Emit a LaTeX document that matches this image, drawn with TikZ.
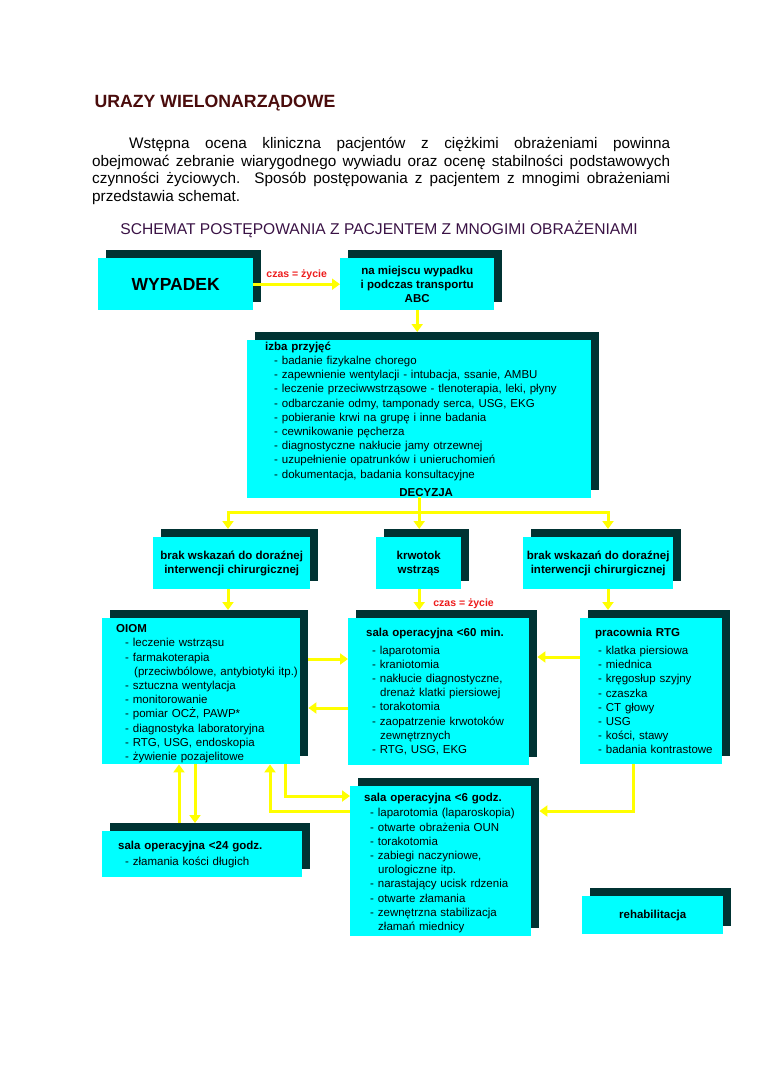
\documentclass[tikz,border=0pt]{standalone}
\usepackage{fontspec}
\setmainfont{Liberation Sans}
\usetikzlibrary{arrows.meta, positioning, shadows, calc}
\definecolor{bCyan}{HTML}{00FFFF}
\definecolor{bShadow}{HTML}{003333}
\definecolor{bYellow}{HTML}{FFFF00}
\definecolor{tBrown}{HTML}{4A0C0C}
\definecolor{tPurple}{HTML}{3A1245}
\definecolor{tRed}{HTML}{EE1C1C}
\newcommand{\boxfont}{\fontsize{11.5}{14.2}\selectfont}
\newcommand{\itm}[2][9pt]{\hspace*{#1}\mbox{- #2}}
\newcommand{\cnt}[2][17pt]{\hspace*{#1}\mbox{#2}}

\begin{document}
\begin{tikzpicture}[x=1pt, y=-1pt,
    card/.style={fill=bCyan, anchor=north west, inner sep=0pt,
      copy shadow={shadow xshift=8pt, shadow yshift=8pt, fill=bShadow, draw=none}},
    listcard/.style={card, align=left, font=\boxfont},
    titlecard/.style={card, align=center, font=\boxfont\bfseries},
    link/.style={draw=bYellow, line width=3pt, line cap=rect},
    flow/.style={draw=bYellow, line width=3pt, -{Triangle[length=8pt,width=11pt]}},
    timenote/.style={text=tRed, inner sep=0pt, font=\fontsize{10.5}{12}\selectfont\bfseries}]
    \fill[white] (0,0) rectangle (760,1075);
    \useasboundingbox (0,0) rectangle (760,1075);

    % heading and text
    \node[anchor=base west, text=tBrown, font=\fontsize{17.7}{20}\selectfont\bfseries] (heading) at (91,108) {URAZY WIELONARZĄDOWE};
    \node[anchor=north west, text width=578pt, inner sep=0pt, align=justify,
          font=\fontsize{15.3}{17.6}\selectfont] (intro) at (92,137)
      {\noindent\hspace*{37pt}Wstępna ocena kliniczna pacjentów z ciężkimi obrażeniami powinna\linebreak
       obejmować zebranie wiarygodnego wywiadu oraz ocenę stabilności podstawowych\linebreak
       czynności życiowych. Sposób postępowania z pacjentem z mnogimi obrażeniami\linebreak
       przedstawia schemat.};
    \node[anchor=base, text=tPurple, font=\fontsize{15.6}{18}\selectfont] (schemat) at (379,234)
      {SCHEMAT POSTĘPOWANIA Z PACJENTEM Z MNOGIMI OBRAŻENIAMI};

    % boxes
    \node[card, minimum width=155pt, minimum height=52pt, font=\fontsize{17.5}{20}\selectfont\bfseries] (wypadek) at (98,258) {WYPADEK};
    \node[titlecard, minimum width=154pt, minimum height=52pt] (miejsce) at (340,258) {na miejscu wypadku\\i podczas transportu\\ABC};
    \node[listcard, inner xsep=18pt, text width=308pt, minimum height=158pt] (izba) at (247,340)
      {\textbf{izba przyjęć}\\
       \itm{badanie fizykalne chorego}\\
       \itm{zapewnienie wentylacji - intubacja, ssanie, AMBU}\\
       \itm{leczenie przeciwwstrząsowe - tlenoterapia, leki, płyny}\\
       \itm{odbarczanie odmy, tamponady serca, USG, EKG}\\
       \itm{pobieranie krwi na grupę i inne badania}\\
       \itm{cewnikowanie pęcherza}\\
       \itm{diagnostyczne nakłucie jamy otrzewnej}\\
       \itm{uzupełnienie opatrunków i unieruchomień}\\
       \itm{dokumentacja, badania konsultacyjne}\\[4pt]
       \makebox[308pt]{\hspace{14pt}\textbf{DECYZJA}}};
    \node[titlecard, minimum width=157pt, minimum height=52pt] (brakL) at (153,537) {brak wskazań do doraźnej\\interwencji chirurgicznej};
    \node[titlecard, minimum width=85pt, minimum height=52pt] (krwotok) at (376,537) {krwotok\\wstrząs};
    \node[titlecard, minimum width=150pt, minimum height=52pt] (brakR) at (523,537) {brak wskazań do doraźnej\\interwencji chirurgicznej};

    \node[listcard, inner xsep=14pt, text width=170pt, minimum height=146pt] (oiom) at (102,618)
      {\rule{0pt}{13pt}\textbf{OIOM}\\
       \itm{leczenie wstrząsu}\\
       \itm{farmakoterapia}\\
       \cnt[18pt]{(przeciwbólowe, antybiotyki itp.)}\\
       \itm{sztuczna wentylacja}\\
       \itm{monitorowanie}\\
       \itm{pomiar OCŻ, PAWP*}\\
       \itm{diagnostyka laboratoryjna}\\
       \itm{RTG, USG, endoskopia}\\
       \itm{żywienie pozajelitowe}};
    \node[listcard, inner xsep=18pt, text width=145pt, minimum height=147pt] (sala60) at (348,618)
      {\textbf{sala operacyjna <60 min.}\\[3pt]
       \itm[6pt]{laparotomia}\\
       \itm[6pt]{kraniotomia}\\
       \itm[6pt]{nakłucie diagnostyczne,}\\
       \cnt[14pt]{drenaż klatki piersiowej}\\
       \itm[6pt]{torakotomia}\\
       \itm[6pt]{zaopatrzenie krwotoków}\\
       \cnt[14pt]{zewnętrznych}\\
       \itm[6pt]{RTG, USG, EKG}};
    \node[listcard, inner xsep=15pt, text width=112pt, minimum height=146pt] (rtg) at (580,618)
      {\textbf{pracownia RTG}\\[3.5pt]
       \itm[3pt]{klatka piersiowa}\\
       \itm[3pt]{miednica}\\
       \itm[3pt]{kręgosłup szyjny}\\
       \itm[3pt]{czaszka}\\
       \itm[3pt]{CT głowy}\\
       \itm[3pt]{USG}\\
       \itm[3pt]{kości, stawy}\\
       \itm[3pt]{badania kontrastowe}};
    \node[listcard, inner xsep=14pt, text width=153pt, minimum height=150pt] (sala6) at (350,786)
      {\rule{0pt}{12pt}\textbf{sala operacyjna <6 godz.}\\[1pt]
       \itm[6pt]{laparotomia (laparoskopia)}\\
       \itm[6pt]{otwarte obrażenia OUN}\\
       \itm[6pt]{torakotomia}\\
       \itm[6pt]{zabiegi naczyniowe,}\\
       \cnt[14pt]{urologiczne itp.}\\
       \itm[6pt]{narastający ucisk rdzenia}\\
       \itm[6pt]{otwarte złamania}\\
       \itm[6pt]{zewnętrzna stabilizacja}\\
       \cnt[14pt]{złamań miednicy}};
    \node[listcard, inner xsep=16pt, text width=168pt, minimum height=46pt] (sala24) at (102,831)
      {\textbf{sala operacyjna <24 godz.}\\[2pt]
       \itm[7pt]{złamania kości długich}};
    \node[card, minimum width=141pt, minimum height=38pt, font=\boxfont\bfseries] (rehab) at (582,896) {rehabilitacja};

    % connectors
    \draw[flow] (wypadek.east) -- node[timenote, above=3pt] (czasA) {czas = życie} (miejsce.west);
    \draw[flow, shorten >=8pt] (miejsce.south) -- (miejsce.south |- izba.north);

    \coordinate (split) at ($(izba.south)+(0,14)$);
    \coordinate (dropL) at (228,512);
    \coordinate (dropR) at (608,512);
    \draw[link] (izba.south) -- (split);
    \draw[link] (dropL) -- (dropR);
    \foreach \c/\a/\b in {dropL/brakL/oiom, split/krwotok/sala60, dropR/brakR/rtg} {
      \draw[flow, shorten >=8pt] (\c) -- (\c |- \a.north);
      \draw[flow, shorten >=8pt] (\c |- \a.south) -- (\c |- \b.north);
    }
    \node[timenote, anchor=west] (czasB) at ($(split |- krwotok.south)!0.5!(split |- sala60.north)+(14,0)$) {czas = życie};

    \draw[flow, shorten <=8pt] ([yshift=-41pt]oiom.north east) -- ([yshift=-41pt]oiom.north east -| sala60.west);
    \draw[flow, shorten >=8pt] ([yshift=-90pt]sala60.north west) -- ([yshift=-90pt]sala60.north west -| oiom.east);
    \draw[flow, shorten >=8pt] ([yshift=-39pt]rtg.north west) -- ([yshift=-39pt]rtg.north west -| sala60.east);

    \draw[flow, shorten <=8pt] ([xshift=77pt]sala24.north west) -- ([xshift=77pt]sala24.north west |- oiom.south);
    \draw[flow, shorten >=8pt] ([xshift=93pt]oiom.south west) -- ([xshift=93pt]oiom.south west |- sala24.north);
    \draw[flow] ([yshift=-25pt]sala6.north west) -| ([xshift=168pt]oiom.south west);
    \draw[flow] ([xshift=183pt]oiom.south west) |- ([yshift=-10pt]sala6.north west);
    \draw[flow, shorten >=8pt] ([xshift=53pt]rtg.south west) |- ([yshift=-25pt]sala6.north east);
\end{tikzpicture}
\end{document}
